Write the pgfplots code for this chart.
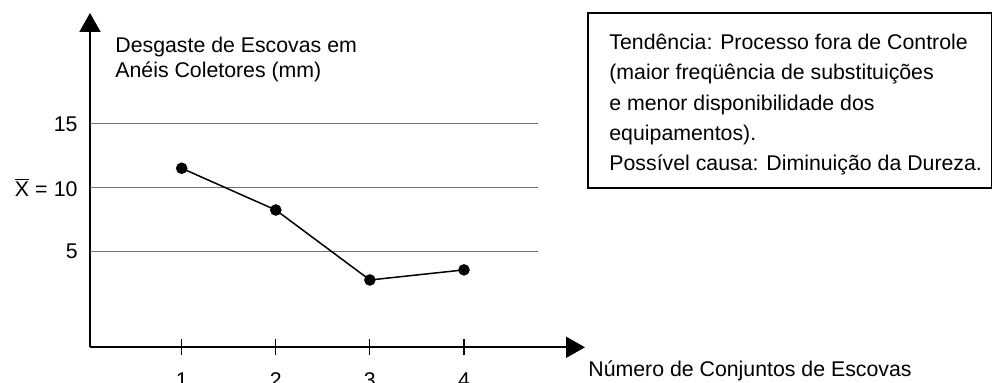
\documentclass[border=0pt]{standalone}
\usepackage{fontspec}
\setmainfont{Liberation Sans}
\usepackage{pgfplots}
\pgfplotsset{compat=1.18}
\usetikzlibrary{arrows.meta}
\begin{document}
\fontsize{10.65pt}{12.8pt}\selectfont
\begin{tikzpicture}[x=0.5pt,y=0.5pt]
\begin{axis}[
  at={(45pt,17.85pt)}, anchor=south west,
  scale only axis, width=247.5pt, height=167.15pt,
  xmin=0.0255, xmax=5.286, ymin=-2.5, ymax=23.68,
  axis lines=left,
  axis line style={line width=1pt, -{Triangle[length=9.5pt,width=10.5pt]}},
  xtick={1,2,3,4}, xticklabels={1,2,3,4},
  ytick={5,10,15}, yticklabels={5,{$\overline{\mbox{X}}$ =\hspace{0.3em}10},15},
  tick align=center,
  major tick length=8pt,
  x tick style={line width=0.6pt, black},
  y tick style={draw=none},
  xticklabel style={yshift=-8.5pt, inner sep=0pt, anchor=north},
  yticklabel style={inner sep=0pt, anchor=east, xshift=-2pt},
  clip=false,
]
\draw[black!55, line width=0.6pt] (axis cs:0.0255,5) -- (axis cs:4.786,5);
\draw[black!55, line width=0.6pt] (axis cs:0.0255,10) -- (axis cs:4.786,10);
\draw[black!55, line width=0.6pt] (axis cs:0.0255,15) -- (axis cs:4.786,15);
\addplot[black, line width=0.75pt, mark=*, mark size=2.5pt, mark options={solid, fill=black}]
  coordinates {(1,11.52) (2,8.25) (3,2.77) (4,3.56)};
\end{axis}
\node[anchor=base west, inner sep=0pt] at (115,330.3) {Desgaste de Escovas em};
\node[anchor=base west, inner sep=0pt] at (115,305.3) {Anéis Coletores (mm)};
\draw[line width=0.7pt] (588,370) rectangle (991.3,195);
\node[anchor=base west, inner sep=0pt] at (609,333.7) {Tendência: Processo fora de Controle};
\node[anchor=base west, inner sep=0pt] at (609,303.3) {(maior freqüência de substituições};
\node[anchor=base west, inner sep=0pt] at (609,272.9) {e menor disponibilidade dos};
\node[anchor=base west, inner sep=0pt] at (609,242.5) {equipamentos).};
\node[anchor=base west, inner sep=0pt] at (609,212.1) {Possível causa: Diminuição da Dureza.};
\node[anchor=base west, inner sep=0pt] at (588,6) {Número de Conjuntos de Escovas};
\pgfresetboundingbox
\path[use as bounding box] (0,0) rectangle (992,383);
\end{tikzpicture}
\end{document}
